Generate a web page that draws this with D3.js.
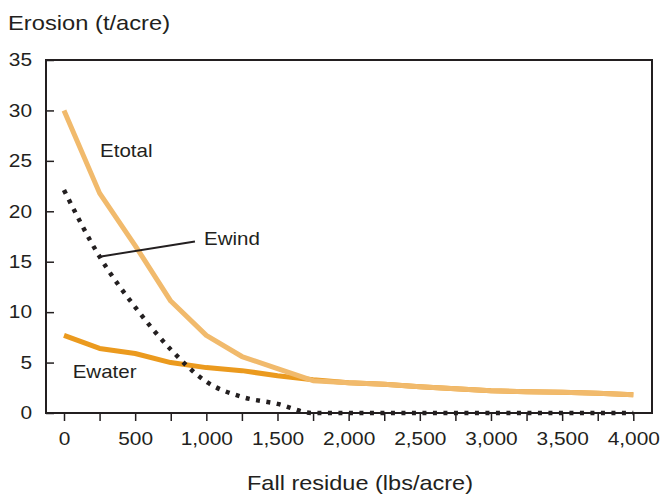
<!DOCTYPE html>
<html>
<head>
<meta charset="utf-8">
<script src="https://cdn.jsdelivr.net/npm/d3@7"></script>
<style>
  html, body { margin: 0; padding: 0; background: #fff; }
  svg { display: block; font-family: "Liberation Sans", Arial, Helvetica, sans-serif; }
</style>
</head>
<body>
<svg id="chart" width="662" height="496"></svg>
<script>
// ---- data ----
const residue = [0, 250, 500, 750, 1000, 1250, 1500, 1750, 2000, 2250, 2500, 2750, 3000, 3250, 3500, 3750, 4000];
const eTotal = [30, 21.8, 16.6, 11.1, 7.7, 5.6, 4.4, 3.2, 3.0, 2.85, 2.6, 2.4, 2.2, 2.1, 2.05, 1.95, 1.8];
const eWater = [7.7, 6.4, 5.9, 5.0, 4.5, 4.2, 3.7, 3.3, 3.0, 2.85, 2.6, 2.4, 2.2, 2.1, 2.05, 1.95, 1.8];
const eWind  = [22.1, 15.5, 10.5, 6.3, 3.1, 1.6, 0.9, 0, 0, 0, 0, 0, 0, 0, 0, 0, 0];
const yTicks = [0, 5, 10, 15, 20, 25, 30, 35];
const xTickValues = [0, 250, 500, 750, 1000, 1250, 1500, 1750, 2000, 2250, 2500, 2750, 3000, 3250, 3500, 3750, 4000];
const xLabelStep = 500;
const yTitle = "Erosion (t/acre)";
const xTitle = "Fall residue (lbs/acre)";
// annotation labels in data coordinates
const labels = [
  { text: "Etotal", x: 253, y: 25.4 },
  { text: "Ewater", x: 61, y: 3.44 },
  { text: "Ewind", x: 984, y: 16.66 }
];
const windLeader = { from: [250, 15.5], to: [920, 17.0] };

// ---- layout ----
const svg = d3.select("#chart");
const frame = { left: 46, right: 652, top: 60, bottom: 413 };
const x = d3.scaleLinear().domain([0, 4000]).range([64, 633.3]);
const y = d3.scaleLinear().domain([0, 35]).range([frame.bottom, frame.top]);
const ink = "#231f20";
const SX = 1.16;

function stretchedText(px, py, str, size, anchor, sx) {
  const g = svg.append("g").attr("transform", `translate(${px},${py})`);
  g.append("text")
    .attr("transform", `scale(${sx},1)`)
    .attr("text-anchor", anchor)
    .attr("font-size", size)
    .attr("fill", ink)
    .text(str);
  return g;
}

// x axis ticks
const xAxis = d3.axisBottom(x)
  .tickValues(xTickValues)
  .tickSize(8)
  .tickFormat(d => d % xLabelStep === 0 ? d3.format(",")(d) : "");
const gx = svg.append("g").attr("transform", `translate(0,${frame.bottom})`).call(xAxis);
gx.select(".domain").remove();
gx.selectAll(".tick line").attr("stroke", ink).attr("stroke-width", 1.5);
gx.selectAll(".tick text")
  .attr("y", 32).attr("dy", 0)
  .attr("font-size", 18)
  .attr("font-family", "Liberation Sans, Arial, sans-serif")
  .attr("fill", ink)
  .attr("transform", `scale(${SX},1)`);

// y axis ticks (inward)
const yAxis = d3.axisLeft(y).tickValues(yTicks).tickSize(-8).tickFormat(d3.format("d"));
const gy = svg.append("g").attr("transform", `translate(${frame.left},0)`).call(yAxis);
gy.select(".domain").remove();
gy.selectAll(".tick line").attr("stroke", ink).attr("stroke-width", 1.5);
gy.selectAll(".tick text")
  .attr("x", -14 / SX).attr("dy", "0.32em")
  .attr("font-size", 18)
  .attr("font-family", "Liberation Sans, Arial, sans-serif")
  .attr("fill", ink)
  .attr("transform", `scale(${SX},1)`);

// frame
svg.append("rect")
  .attr("x", frame.left).attr("y", frame.top)
  .attr("width", frame.right - frame.left).attr("height", frame.bottom - frame.top)
  .attr("fill", "none").attr("stroke", ink).attr("stroke-width", 2);

// lines
const lineLin = d3.line().x((d, i) => x(residue[i])).y(d => y(d));
const lineSmooth = d3.line().x((d, i) => x(residue[i])).y(d => y(d)).curve(d3.curveMonotoneX);

svg.append("path").datum(eWater).attr("d", lineLin)
  .attr("fill", "none").attr("stroke", "#eb9a1e").attr("stroke-width", 5).attr("stroke-linejoin", "round");
svg.append("path").datum(eTotal).attr("d", lineLin)
  .attr("fill", "none").attr("stroke", "#f1ba6c").attr("stroke-width", 5).attr("stroke-linejoin", "round");
svg.append("path").datum(eWind).attr("d", lineSmooth)
  .attr("fill", "none").attr("stroke", ink).attr("stroke-width", 4.5)
  .attr("stroke-dasharray", "4,6.5");

// leader line
svg.append("line")
  .attr("x1", x(windLeader.from[0])).attr("y1", y(windLeader.from[1]))
  .attr("x2", x(windLeader.to[0])).attr("y2", y(windLeader.to[1]))
  .attr("stroke", ink).attr("stroke-width", 2);

// series labels
labels.forEach(l => stretchedText(x(l.x), y(l.y), l.text, 18, "start", 1.14));

// axis titles
stretchedText(8, 30, yTitle, 21, "start", 1.13);
stretchedText(360, 490, xTitle, 21, "middle", 1.12);
</script>
</body>
</html>
